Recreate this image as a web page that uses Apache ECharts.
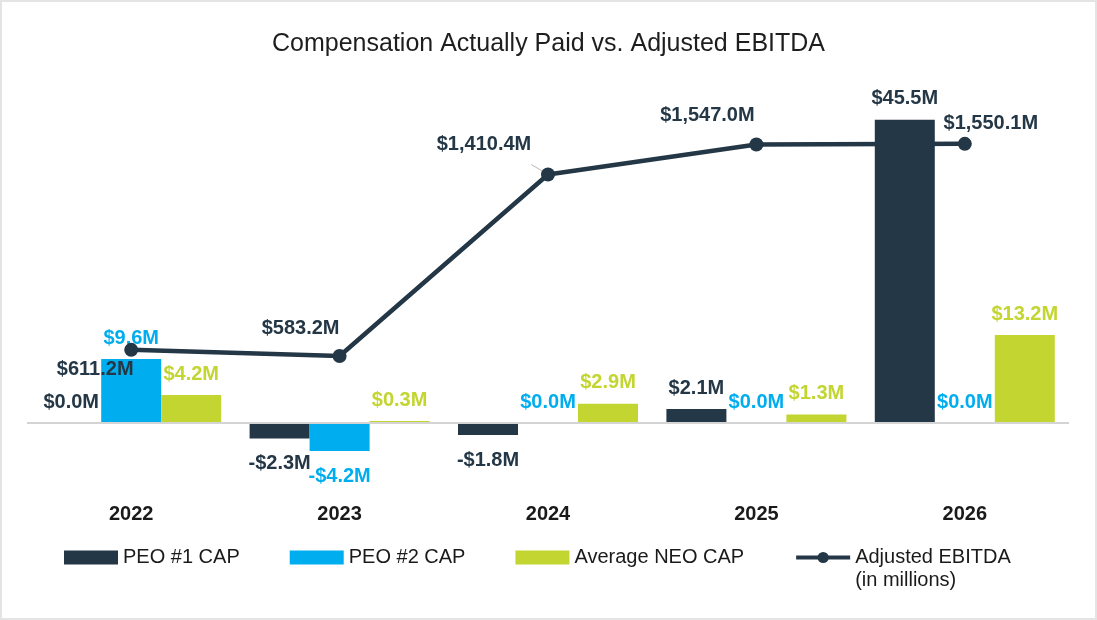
<!DOCTYPE html>
<html>
<head>
<meta charset="utf-8">
<script src="https://cdn.jsdelivr.net/npm/echarts@6/dist/echarts.min.js"></script>
<style>
html,body{margin:0;padding:0;background:#fff;}
#chart{width:1097px;height:620px;box-sizing:border-box;border:2px solid #e4e4e4;}
</style>
</head>
<body>
<div id="chart"></div>
<script>
const years = ['2022', '2023', '2024', '2025', '2026'];
const peo1Cap = [0.0, -2.3, -1.8, 2.1, 45.5];
const peo2Cap = [9.6, -4.2, 0.0, 0.0, 0.0];
const avgNeoCap = [4.2, 0.3, 2.9, 1.3, 13.2];
const adjEbitda = [611.2, 583.2, 1410.4, 1547.0, 1550.1];

const C_NAVY = '#243746';
const C_CYAN = '#00AEEF';
const C_LIME = '#C3D530';
const FONT = '"Liberation Sans", Arial, sans-serif';

// label layout (style, not data)
const lineLabelOffsets = [[-36, 20], [-39, -28], [-64, -30], [-49, -29], [26, -20]];

function money(v) {
  const s = Math.abs(v).toLocaleString('en-US', {minimumFractionDigits: 1, maximumFractionDigits: 1});
  return (v < 0 ? '-$' : '$') + s + 'M';
}

function barData(arr) {
  return arr.map(v => ({
    value: v,
    label: v < 0 ? {position: 'bottom', distance: 15} : {position: 'top', distance: 11}
  }));
}

function barSeries(name, arr, color) {
  return {
    name: name,
    type: 'bar',
    yAxisIndex: 0,
    barWidth: 60,
    barGap: '0%',
    z: 2,
    itemStyle: {color: color},
    label: {
      show: true,
      color: color,
      fontFamily: FONT,
      fontWeight: 'bold',
      fontSize: 20,
      formatter: p => money(p.value)
    },
    data: barData(arr)
  };
}

const chart = echarts.init(document.getElementById('chart'), null, {renderer: 'canvas'});

const option = {
  animation: false,
  backgroundColor: '#fff',
  title: {
    text: 'Compensation Actually Paid vs. Adjusted EBITDA',
    left: 'center',
    top: 25,
    textStyle: {fontFamily: FONT, fontSize: 25, fontWeight: 'normal', color: '#1e1e1e'}
  },
  grid: {left: 25, right: 26, top: 60, bottom: 134},
  xAxis: {
    type: 'category',
    data: years,
    axisLine: {show: false},
    axisTick: {show: false},
    axisLabel: {margin: 20, fontFamily: FONT, fontSize: 20, fontWeight: 'bold', color: '#1a1a1a'}
  },
  yAxis: [
    {type: 'value', min: -9.14, max: 54.16, show: false, splitLine: {show: false}},
    {type: 'value', min: 0, max: 1923, show: false, splitLine: {show: false}}
  ],
  legend: {
    left: 62,
    top: 521,
    padding: 0,
    itemWidth: 54,
    itemHeight: 14,
    itemGap: 50,
    textStyle: {fontFamily: FONT, fontSize: 20, color: '#1a1a1a', lineHeight: 23},
    formatter: n => n === 'Adjusted EBITDA' ? '\nAdjusted EBITDA\n(in millions)' : n,
    data: [
      {name: 'PEO #1 CAP', icon: 'rect'},
      {name: 'PEO #2 CAP', icon: 'rect'},
      {name: 'Average NEO CAP', icon: 'rect'},
      {name: 'Adjusted EBITDA', lineStyle: {width: 4}}
    ]
  },
  series: [
    Object.assign(barSeries('PEO #1 CAP', peo1Cap, C_NAVY), {
      markLine: {
        silent: true,
        symbol: 'none',
        label: {show: false},
        lineStyle: {color: '#d4d4d4', width: 2, type: 'solid'},
        data: [{yAxis: 0}]
      }
    }),
    barSeries('PEO #2 CAP', peo2Cap, C_CYAN),
    barSeries('Average NEO CAP', avgNeoCap, C_LIME),
    {
      name: 'Adjusted EBITDA',
      type: 'line',
      yAxisIndex: 1,
      z: 5,
      symbol: 'circle',
      symbolSize: 14,
      itemStyle: {color: C_NAVY},
      lineStyle: {color: C_NAVY, width: 4.5},
      label: {
        show: true,
        position: 'inside',
        color: C_NAVY,
        fontFamily: FONT,
        fontWeight: 'bold',
        fontSize: 20,
        formatter: p => money(p.value)
      },
      data: adjEbitda.map((v, i) => ({
        value: v,
        label: {offset: lineLabelOffsets[i]},
        labelLine: i === 2 ? {show: true, lineStyle: {color: '#b8b8b8', width: 1}} : undefined
      }))
    }
  ]
};

chart.setOption(option);
</script>
</body>
</html>
